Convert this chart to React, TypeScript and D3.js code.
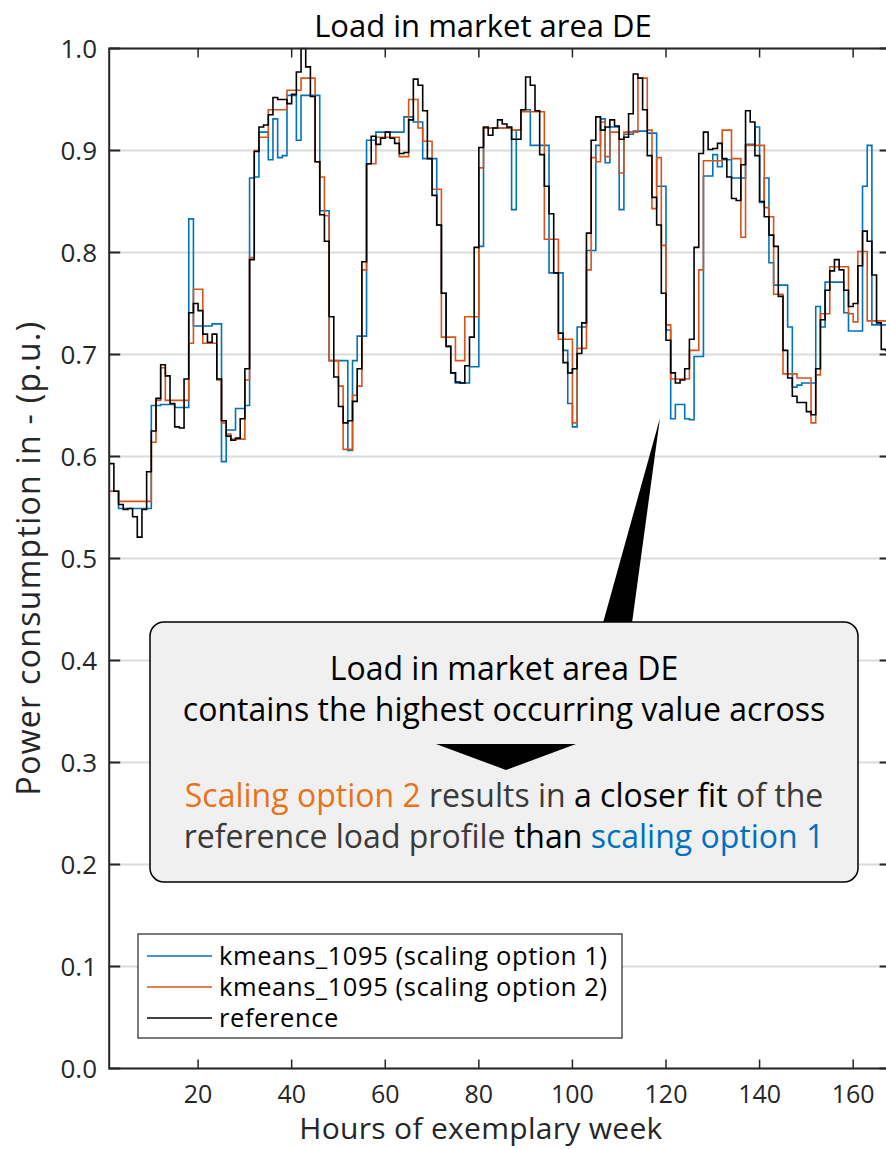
import React from "react";
import * as d3 from "d3";

// Hourly load of one exemplary week (p.u.), hour 1..168
const reference = [
  0.593, 0.566, 0.553, 0.548, 0.549, 0.541, 0.521, 0.548, 0.585, 0.625,
  0.657, 0.690, 0.679, 0.652, 0.629, 0.628, 0.676, 0.741, 0.750, 0.743,
  0.720, 0.712, 0.720, 0.676, 0.635, 0.620, 0.616, 0.618, 0.637, 0.686,
  0.793, 0.899, 0.923, 0.925, 0.935, 0.952, 0.950, 0.950, 0.946, 0.955,
  0.977, 1.000, 0.982, 0.953, 0.889, 0.837, 0.811, 0.737, 0.678, 0.649,
  0.633, 0.635, 0.654, 0.686, 0.791, 0.887, 0.914, 0.906, 0.912, 0.918,
  0.912, 0.907, 0.897, 0.898, 0.930, 0.970, 0.964, 0.939, 0.892, 0.856,
  0.827, 0.760, 0.708, 0.682, 0.673, 0.672, 0.689, 0.717, 0.805, 0.903,
  0.923, 0.915, 0.922, 0.930, 0.926, 0.923, 0.911, 0.911, 0.940, 0.972,
  0.964, 0.939, 0.896, 0.865, 0.838, 0.780, 0.721, 0.692, 0.682, 0.686,
  0.701, 0.731, 0.819, 0.910, 0.933, 0.920, 0.923, 0.930, 0.924, 0.911,
  0.913, 0.936, 0.975, 0.971, 0.940, 0.895, 0.854, 0.827, 0.760, 0.714,
  0.682, 0.672, 0.675, 0.686, 0.715, 0.805, 0.897, 0.918, 0.901, 0.902,
  0.907, 0.892, 0.874, 0.853, 0.851, 0.886, 0.939, 0.928, 0.895, 0.850,
  0.835, 0.817, 0.806, 0.757, 0.704, 0.677, 0.659, 0.653, 0.653, 0.644,
  0.641, 0.686, 0.734, 0.763, 0.782, 0.793, 0.783, 0.763, 0.747, 0.750,
  0.787, 0.821, 0.811, 0.778, 0.731, 0.705, 0.704, 0.704,
];

const scalingOption1 = [
  0.566, 0.566, 0.549, 0.549, 0.549, 0.549, 0.549, 0.549, 0.549, 0.650,
  0.650, 0.651, 0.651, 0.651, 0.648, 0.648, 0.648, 0.833, 0.728, 0.728,
  0.728, 0.728, 0.730, 0.730, 0.595, 0.626, 0.626, 0.647, 0.647, 0.650,
  0.873, 0.874, 0.918, 0.918, 0.891, 0.931, 0.893, 0.895, 0.954, 0.954,
  0.910, 0.954, 0.954, 0.954, 0.954, 0.841, 0.841, 0.694, 0.694, 0.694,
  0.694, 0.606, 0.694, 0.718, 0.718, 0.910, 0.910, 0.918, 0.918, 0.918,
  0.918, 0.918, 0.918, 0.933, 0.933, 0.928, 0.928, 0.892, 0.892, 0.892,
  0.827, 0.760, 0.708, 0.682, 0.672, 0.672, 0.672, 0.688, 0.688, 0.806,
  0.922, 0.922, 0.922, 0.922, 0.922, 0.922, 0.842, 0.920, 0.940, 0.940,
  0.905, 0.905, 0.905, 0.905, 0.780, 0.780, 0.780, 0.704, 0.652, 0.629,
  0.727, 0.727, 0.802, 0.802, 0.905, 0.931, 0.888, 0.923, 0.923, 0.842,
  0.916, 0.916, 0.919, 0.919, 0.919, 0.917, 0.917, 0.865, 0.865, 0.724,
  0.637, 0.651, 0.651, 0.637, 0.636, 0.698, 0.698, 0.875, 0.875, 0.896,
  0.884, 0.891, 0.891, 0.873, 0.873, 0.873, 0.906, 0.906, 0.923, 0.849,
  0.873, 0.790, 0.768, 0.768, 0.768, 0.727, 0.668, 0.670, 0.672, 0.672,
  0.672, 0.747, 0.727, 0.771, 0.771, 0.771, 0.771, 0.741, 0.723, 0.723,
  0.723, 0.865, 0.905, 0.729, 0.729, 0.729, 0.729, 0.729,
];

const scalingOption2 = [
  0.566, 0.566, 0.556, 0.556, 0.556, 0.556, 0.556, 0.556, 0.556, 0.614,
  0.655, 0.687, 0.655, 0.655, 0.655, 0.655, 0.655, 0.711, 0.764, 0.764,
  0.711, 0.711, 0.711, 0.675, 0.633, 0.622, 0.617, 0.617, 0.617, 0.675,
  0.795, 0.900, 0.913, 0.913, 0.940, 0.940, 0.940, 0.940, 0.959, 0.959,
  0.959, 0.971, 0.971, 0.971, 0.889, 0.874, 0.836, 0.694, 0.694, 0.669,
  0.607, 0.607, 0.660, 0.669, 0.783, 0.887, 0.887, 0.913, 0.913, 0.913,
  0.913, 0.913, 0.894, 0.894, 0.950, 0.950, 0.922, 0.909, 0.909, 0.862,
  0.862, 0.717, 0.717, 0.717, 0.694, 0.694, 0.737, 0.737, 0.737, 0.883,
  0.922, 0.922, 0.922, 0.922, 0.922, 0.922, 0.920, 0.920, 0.938, 0.938,
  0.938, 0.938, 0.938, 0.813, 0.813, 0.813, 0.715, 0.715, 0.715, 0.633,
  0.706, 0.706, 0.783, 0.893, 0.889, 0.928, 0.894, 0.918, 0.918, 0.878,
  0.918, 0.918, 0.918, 0.971, 0.971, 0.920, 0.843, 0.893, 0.807, 0.729,
  0.676, 0.676, 0.676, 0.676, 0.704, 0.704, 0.783, 0.890, 0.890, 0.890,
  0.890, 0.920, 0.920, 0.892, 0.892, 0.815, 0.905, 0.905, 0.905, 0.905,
  0.844, 0.835, 0.759, 0.759, 0.681, 0.681, 0.681, 0.677, 0.677, 0.677,
  0.633, 0.680, 0.740, 0.740, 0.786, 0.786, 0.786, 0.786, 0.740, 0.732,
  0.801, 0.801, 0.733, 0.733, 0.733, 0.733, 0.733, 0.733,
];

const xTicks = [20, 40, 60, 80, 100, 120, 140, 160];
const yTicks = [0, 0.1, 0.2, 0.3, 0.4, 0.5, 0.6, 0.7, 0.8, 0.9, 1.0];

const series = [
  { name: "kmeans_1095 (scaling option 1)", values: scalingOption1, color: "#0072BD" },
  { name: "kmeans_1095 (scaling option 2)", values: scalingOption2, color: "#D95319" },
  { name: "reference", values: reference, color: "#000000" },
];

const W = 886;
const H = 1149;
const FONT = "'Open Sans', 'Noto Sans', sans-serif";
const AXIS = "#262626";

export default function App() {
  const left = 109.2;
  const right = 890.6;
  const top = 48.5;
  const bottom = 1068.5;

  const x = d3.scaleLinear().domain([1, 168]).range([left, right]);
  const y = d3.scaleLinear().domain([0, 1]).range([bottom, top]);

  const stairs = d3
    .line<number>()
    .x((_, i) => x(i + 1))
    .y((d) => y(d))
    .curve(d3.curveStepAfter);

  return (
    <svg
      width={W}
      height={H}
      viewBox={`0 0 ${W} ${H}`}
      style={{ position: "absolute", left: 0, top: 0, background: "#fff" }}
      fontFamily={FONT}
    >
      <defs>
        <clipPath id="plot-area">
          <rect x={left} y={top - 1} width={right - left} height={bottom - top + 1} />
        </clipPath>
      </defs>
      <rect x={0} y={0} width={W} height={H} fill="#fff" />

      {/* horizontal grid */}
      {yTicks.map((t) => (
        <line
          key={`g${t}`}
          x1={left}
          x2={right}
          y1={y(t)}
          y2={y(t)}
          stroke="#dcdcdc"
          strokeWidth={2}
        />
      ))}

      {/* step lines */}
      <g clipPath="url(#plot-area)">
        {series.map((s) => (
          <path
            key={s.name}
            d={stairs(s.values) || ""}
            fill="none"
            stroke={s.color}
            strokeWidth={1.6}
            strokeLinejoin="miter"
          />
        ))}
      </g>

      {/* axes box */}
      <rect
        x={left}
        y={top}
        width={right - left}
        height={bottom - top}
        fill="none"
        stroke={AXIS}
        strokeWidth={2}
      />

      {/* ticks */}
      {yTicks.map((t) => (
        <g key={`yt${t}`}>
          <line x1={left} x2={left + 11} y1={y(t)} y2={y(t)} stroke={AXIS} strokeWidth={2} />
          <line x1={right} x2={right - 11} y1={y(t)} y2={y(t)} stroke={AXIS} strokeWidth={2} />
          <text
            x={97}
            y={y(t)}
            dy="0.36em"
            textAnchor="end"
            fontSize={26}
            fill={AXIS}
          >
            {t.toFixed(1)}
          </text>
        </g>
      ))}
      {xTicks.map((t) => (
        <g key={`xt${t}`}>
          <line x1={x(t)} x2={x(t)} y1={bottom} y2={bottom - 9} stroke={AXIS} strokeWidth={1.5} />
          <line x1={x(t)} x2={x(t)} y1={top} y2={top + 9} stroke={AXIS} strokeWidth={1.5} />
          <text x={x(t)} y={1103} textAnchor="middle" fontSize={25} fill={AXIS}>
            {t}
          </text>
        </g>
      ))}

      {/* titles */}
      <text x={483} y={37} textAnchor="middle" fontSize={31} fill="#000">
        Load in market area DE
      </text>
      <text
        x={481}
        y={1139}
        textAnchor="middle"
        fontSize={30}
        letterSpacing={0.3}
        fill={AXIS}
      >
        Hours of exemplary week
      </text>
      <text
        transform="translate(40,558) rotate(-90)"
        textAnchor="middle"
        fontSize={32}
        letterSpacing={1.3}
        fill={AXIS}
      >
        Power consumption in - (p.u.)
      </text>

      {/* legend */}
      <g>
        <rect x={138} y={934} width={484} height={104} fill="#fff" stroke={AXIS} strokeWidth={1.2} />
        {series.map((s, i) => (
          <g key={`lg${i}`}>
            <line
              x1={147}
              x2={212}
              y1={956 + i * 31}
              y2={956 + i * 31}
              stroke={s.color}
              strokeWidth={1.6}
            />
            <text
              x={219}
              y={956 + i * 31}
              dy="0.36em"
              fontSize={25.5}
              letterSpacing={0.6}
              fill="#000"
            >
              {s.name}
            </text>
          </g>
        ))}
      </g>

      {/* annotation */}
      <path d="M603,623 L660,418 L632,623 Z" fill="#000" />
      <rect
        x={150}
        y={622}
        width={708}
        height={260}
        rx={14}
        ry={14}
        fill="#f0f0f0"
        stroke="#000"
        strokeWidth={1.5}
      />
      <text x={504} y={680} textAnchor="middle" fontSize={32} fill="#000">
        Load in market area DE
      </text>
      <text x={504} y={721} textAnchor="middle" fontSize={32} fill="#000">
        contains the highest occurring value across
      </text>
      <path d="M436,744 L576,744 L506,770 Z" fill="#000" />
      <text x={504} y={807} textAnchor="middle" fontSize={32} fill="#3a3a3a">
        <tspan fill="#E8731A">Scaling option 2</tspan>
        <tspan> results in </tspan>
        <tspan fill="#000">a closer fit</tspan>
        <tspan> of the</tspan>
      </text>
      <text x={504} y={848} textAnchor="middle" fontSize={32} fill="#3a3a3a">
        <tspan>reference load profile </tspan>
        <tspan fill="#000">than </tspan>
        <tspan fill="#0070C0">scaling option 1</tspan>
      </text>
    </svg>
  );
}
